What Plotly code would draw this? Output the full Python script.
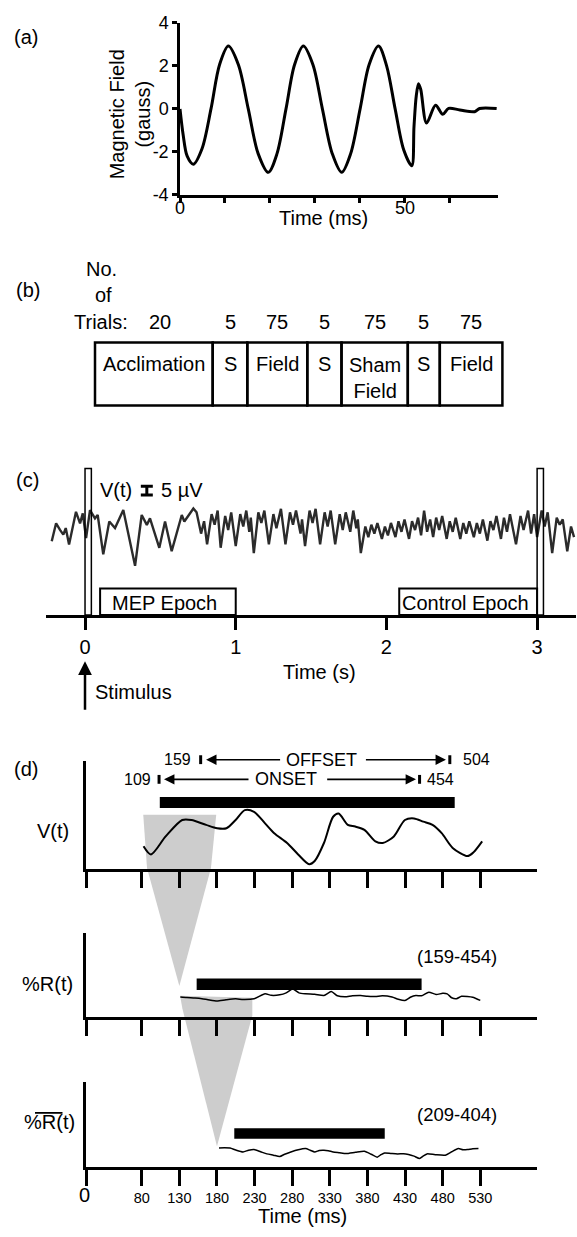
import plotly.graph_objects as go

W, H = 577, 1237
FONT = "Liberation Sans, Arial, sans-serif"


def px(x):
    return x / W


def py(y):
    return 1 - y / H


# ---------------- (a) magnetic field waveform ----------------
a_time = [0, 0.7, 1.6, 2.97, 4.9, 6.9, 8.8, 10.76, 13.0, 15.2, 17.4, 19.66, 21.6, 23.6,
          25.5, 27.46, 29.6, 31.7, 33.9, 36.0, 38.0, 40.1, 42.1, 44.2, 46.0, 47.9, 49.8,
          51.6, 52.1, 52.6, 53.1, 53.6, 54.9, 56.9, 58.5, 59.8, 62.3, 65.6, 66.7, 70.5]
a_field = [0, -1.2, -2.2, -2.57, -1.85, 0, 2.05, 2.92, 2.05, 0, -2.08, -2.95, -2.08, 0,
           2.05, 2.92, 2.05, 0, -2.08, -2.95, -2.08, 0, 2.05, 2.92, 2.0, 0, -1.9,
           -2.64, -0.81, 0.6, 1.17, 0.9, -0.66, 0.17, -0.25, 0.02, -0.05, -0.13, 0.02, 0.02]
a_yticks = [-4, -2, 0, 2, 4]
a_yticklabels = ["-4", "-2", "0", "2", "4"]
a_xticks = [0, 10, 20, 30, 40, 50, 60]
a_xlabelled = [0, 50]

# ---------------- (b) trial blocks ----------------
b_labels = ["Acclimation", "S", "Field", "S", "Sham<br>Field", "S", "Field"]
b_trials = ["20", "5", "75", "5", "75", "5", "75"]
b_edges_px = [95, 212.7, 247.3, 307.3, 341.5, 407.8, 439.8, 502.4]

# ---------------- (c) EEG trace ----------------
c_time = [-0.221, -0.192, -0.166, -0.144, -0.128, -0.106, -0.060, -0.033, -0.015, 0.007,
          0.033, 0.066, 0.084, 0.121, 0.161, 0.199, 0.254, 0.332, 0.376, 0.410, 0.431,
          0.493, 0.531, 0.575, 0.642, 0.659, 0.719,
          0.74, 0.77, 0.79, 0.81, 0.84, 0.86, 0.88, 0.90, 0.93, 0.95, 0.97, 1.00, 1.03,
          1.05, 1.07, 1.09, 1.10, 1.12, 1.15, 1.17, 1.19, 1.22, 1.25, 1.27, 1.30, 1.33,
          1.36, 1.38, 1.40, 1.43, 1.44, 1.46, 1.49, 1.51, 1.53, 1.56, 1.59, 1.61, 1.63,
          1.66, 1.69, 1.71, 1.73, 1.76, 1.78, 1.80, 1.81, 1.83,
          1.86, 1.88, 1.90, 1.92, 1.94, 1.97, 1.99, 2.01, 2.03, 2.06, 2.08, 2.10, 2.12,
          2.15, 2.17, 2.19, 2.21, 2.23, 2.25, 2.27, 2.29, 2.31, 2.33, 2.35, 2.37, 2.40,
          2.42, 2.44, 2.46, 2.49, 2.51, 2.53, 2.55, 2.58, 2.60, 2.62, 2.64, 2.67, 2.69,
          2.71, 2.73, 2.76, 2.78, 2.80, 2.82,
          2.86, 2.89, 2.91, 2.94, 2.96, 2.98, 3.00, 3.03, 3.05, 3.07, 3.10, 3.13, 3.15,
          3.17, 3.20, 3.225, 3.245]
c_volt = [-8.3, 1.8, -1.9, -4.6, -0.9, -10.2, 8.3, 1.8, 7.4, -6.5,
          9.3, 4.6, 6.5, -15.7, 2.8, -0.9, 9.3, -22.2, 6.5, 0.9, 4.6,
          -12.0, 2.8, -13.9, 6.5, 2.8, 10.2,
          8, -4, 3, -10, 7, 1, 9, -12, 6, -2, 8, -11, 7,
          0, 9, -3, 5, -15, 8, 2, 9, -10, 7, -1, 10, -10,
          8, 1, 9, -4, 4, -11, 9, 2, 10, -10, 8, 0, 9,
          -10, 7, -2, 8, -3, 9, -1, 4, -15,
          0, -6, 1, -4, 2, -7, 0, -5, 2, -6, 3, -3, 4,
          -7, 3, -2, 5, -5, 9, -3, 4, -6, 5, -2, 6, -7,
          3, -3, 5, -7, 2, -4, 3, -6, 2, -4, 4, -8, 3,
          -2, 6, -7, 5, -3, 7,
          -10, 6, -2, 9, -4, 7, -6, 9, 0, 8, -15, 5, 1,
          4, -14, 0, -6]
c_ticks = [0, 1, 2, 3]
c_stim_times = [0.0, 3.0]
c_stim_width = 0.042
c_epoch_names = ["MEP Epoch", "Control Epoch"]
c_epoch_start = [0.1, 2.085]
c_epoch_end = [1.0, 3.0]
c_scale_uv = 5

# ---------------- (d) MEP windows ----------------
d_ticks = [80, 130, 180, 230, 280, 330, 380, 430, 480, 530]
d1_time = [82.4, 92.2, 111.8, 133.8, 146.1, 165.6, 180.2, 192.6, 204.8, 217.0, 229.3,
           243.9, 256.1, 273.2, 287.9, 302.6, 309.9, 322.2, 334.4, 341.7, 353.9, 363.8,
           376.0, 390.6, 400.4, 415.1, 429.8, 441.9, 454.3, 466.5, 478.7, 493.3, 512.9,
           520.3, 532.5]
d1_volt = [23, 14.7, 33, 49.7, 49.7, 44.7, 41.3, 41.3, 49.7, 59.7, 58,
           46.3, 36.3, 26.3, 14.7, 4.7, 8, 26.3, 53, 56.3, 44.7, 43,
           39.7, 28, 26.3, 33, 49.7, 51.3, 48, 44.7, 36.3, 21.3, 13,
           16.3, 28]
d2_time = [131.3, 140, 150.8, 160, 168, 180.1, 192, 204.8, 215, 229.3, 243.9, 252, 263.4,
           272, 280.6, 289, 297.7, 310, 322.2, 331.9, 340, 350, 360, 371.1, 380, 390.6,
           400, 412.7, 421, 429.8, 437, 444.4, 452, 461.6, 471.3, 480, 486.0, 492, 498.3,
           505, 512.9, 520, 530.0]
d2_pct = [20.7, 20.2, 19.7, 19.0, 18.0, 16.7, 18.0, 19.0, 18.2, 19.0, 24.0, 22.5, 23.0,
          25.0, 29.0, 25.0, 24.0, 23.5, 22.3, 26.3, 22.0, 21.0, 22.0, 22.3, 21.5, 21.3,
          22.0, 20.7, 18.5, 17.3, 20.5, 22.3, 22.0, 25.7, 23.3, 24.5, 24.0, 20.0, 19.0,
          21.5, 21.3, 20.5, 17.3]
d3_time = [182.7, 190, 197.4, 205, 214.6, 222, 229.3, 238, 246.3, 255, 263.4, 270, 278.2,
           288, 297.7, 304, 309.9, 316, 322.2, 328, 334.4, 343, 351.6, 364, 376.0, 385,
           393.0, 398, 402.8, 411, 420.0, 428, 434.6, 442, 449.3, 454, 459.2, 470, 483.6,
           492, 500.8, 507, 512.9, 520, 527.6]
d3_pct = [19.3, 19.6, 19.3, 17.2, 15.3, 17.0, 17.7, 15.5, 13.3, 12.0, 10.7, 13.0, 15.3,
          17.5, 18.7, 17.0, 15.3, 16.8, 17.0, 16.5, 15.3, 14.5, 13.7, 15.0, 16.0, 13.0,
          10.0, 12.5, 14.3, 13.8, 13.3, 13.5, 12.7, 11.0, 8.7, 11.0, 13.3, 12.5, 12.0,
          15.5, 18.7, 17.5, 17.7, 18.5, 18.7]
d_bar_start = [104, 153, 203]
d_bar_end = [496, 452, 403]
d_bar_labels = ["", "(159-454)", "(209-404)"]
onset_labels = ["109", "454"]
offset_labels = ["159", "504"]
onset_marks = [103, 449.3]
offset_marks = [158.3, 489.5]
window1 = [82, 179]      # averaging window in V(t)
window2 = [131, 227]     # averaging window in %R(t)
window_pts = [130, 180]  # resulting points

fig = go.Figure()

# ---- traces ----
fig.add_trace(go.Scatter(x=a_time, y=a_field, mode="lines",
                         line=dict(color="black", width=3, shape="spline", smoothing=0.9),
                         xaxis="x", yaxis="y", hoverinfo="skip"))
fig.add_trace(go.Scatter(x=c_time, y=c_volt, mode="lines",
                         line=dict(color="#2b2b2b", width=2.4),
                         xaxis="x3", yaxis="y3", hoverinfo="skip"))
fig.add_trace(go.Scatter(x=[0.41], y=[20.3], mode="markers",
                         marker=dict(size=1, color="rgba(0,0,0,0)"),
                         error_y=dict(type="data", array=[c_scale_uv / 2], thickness=3,
                                      width=6, color="black"),
                         xaxis="x3", yaxis="y3", hoverinfo="skip"))
fig.add_trace(go.Scatter(x=d1_time, y=d1_volt, mode="lines",
                         line=dict(color="black", width=2, shape="spline", smoothing=0.8),
                         xaxis="x4", yaxis="y4", hoverinfo="skip"))
fig.add_trace(go.Scatter(x=d2_time, y=d2_pct, mode="lines",
                         line=dict(color="black", width=1.5, shape="spline", smoothing=0.6),
                         xaxis="x5", yaxis="y5", hoverinfo="skip"))
fig.add_trace(go.Scatter(x=d3_time, y=d3_pct, mode="lines",
                         line=dict(color="black", width=1.5, shape="spline", smoothing=0.6),
                         xaxis="x6", yaxis="y6", hoverinfo="skip"))

shapes = []
ann = []


def text(x, y, s, size=20, xanchor="center", **kw):
    d = dict(x=px(x), y=py(y), xref="paper", yref="paper", text=s, showarrow=False,
             xanchor=xanchor, yanchor="middle", font=dict(size=size, color="black", family=FONT))
    d.update(kw)
    ann.append(d)


# ---- (a) ----
text(26, 27, "(a)")
text(130, 106, "Magnetic Field<br>(gauss)", textangle=-90)
text(323, 211, "Time (ms)")
for v in a_xlabelled:
    ann.append(dict(x=v, y=py(201), xref="x", yref="paper", text=str(v), showarrow=False,
                    yanchor="middle", font=dict(size=18, color="black", family=FONT)))

# ---- (b) ----
text(28, 285, "(b)")
text(101, 263, "No.")
text(103, 290, "of")
text(101.5, 317, "Trials:")
for i, (lab, n) in enumerate(zip(b_labels, b_trials)):
    x0, x1 = b_edges_px[i], b_edges_px[i + 1]
    shapes.append(dict(type="rect", xref="paper", yref="paper", x0=px(x0), x1=px(x1),
                       y0=py(402), y1=py(338), line=dict(color="black", width=2.5)))
    cx = (x0 + x1) / 2
    if "<br>" in lab:
        text(cx, 374, lab)
    else:
        text(cx, 360, lab)
    text(cx if i else 160, 317, n)

# ---- (c) ----
text(27.5, 478, "(c)")
text(116, 488, "V(t)")
text(182, 488, "5 µV")
text(319, 673, "Time (s)")
text(93, 693, "Stimulus", xanchor="left")
ann.append(dict(x=px(85), y=py(662), xref="paper", yref="paper", text="", showarrow=True,
                ax=0, ay=50, arrowhead=2, arrowsize=1.1, arrowwidth=2.5, arrowcolor="black"))
for s in c_stim_times:
    shapes.append(dict(type="rect", xref="x3", yref="y3", x0=s, x1=s + c_stim_width,
                       y0=-50, y1=32.8, line=dict(color="black", width=1.5)))
for name, s0, s1 in zip(c_epoch_names, c_epoch_start, c_epoch_end):
    shapes.append(dict(type="rect", xref="x3", yref="y3", x0=s0, x1=s1, y0=-50, y1=-35,
                       line=dict(color="black", width=2)))
    ann.append(dict(x=(s0 + s1) / 2 - 0.02, y=-43.3, xref="x3", yref="y3", text=name,
                    showarrow=False, font=dict(size=20, color="black", family=FONT)))

# ---- (d) ----
text(26, 771, "(d)")
text(53, 835, "V(t)")
text(47, 990, "%R(t)")
text(49, 1130, "%R(t)")
shapes.append(dict(type="line", xref="paper", yref="paper", x0=px(35), x1=px(62.5),
                   y0=py(1121), y1=py(1121), line=dict(color="black", width=1.8)))
text(84.6, 1204, "0")
text(302, 1226, "Time (ms)")

# onset / offset rows
rows = [(782, onset_labels, onset_marks, "ONSET", [(109.6, 223.9), (444.6, 324.5)], 272.4, [75, 477.4]),
        (762, offset_labels, offset_marks, "OFFSET", [(165.5, 265.9), (484.4, 376.0)], 318.3, [127.7, 525.1])]
for yrow, labs, marks, word, arrows, wx, lx in rows:
    for m in marks:
        shapes.append(dict(type="line", xref="x4", yref="paper", x0=m, x1=m,
                           y0=py(yrow + 4.5), y1=py(yrow - 4.5), line=dict(color="black", width=3)))
    for tip, tail in arrows:
        ann.append(dict(x=tip, y=py(yrow), xref="x4", yref="paper", ax=tail, ay=0,
                        axref="x4", ayref="pixel", text="", showarrow=True, arrowhead=2,
                        arrowsize=1.3, arrowwidth=1.6, arrowcolor="black"))
    ann.append(dict(x=wx, y=py(yrow), xref="x4", yref="paper", text=word, showarrow=False,
                    yanchor="middle", font=dict(size=18, color="black", family=FONT)))
    for lab, xx in zip(labs, lx):
        ann.append(dict(x=xx, y=py(yrow), xref="x4", yref="paper", text=lab, showarrow=False,
                        yanchor="middle", font=dict(size=16, color="black", family=FONT)))

# bars
bar_y = [("x4", "y4", 62, 73), ("x5", "y5", 28, 39.7), ("x6", "y6", 28.7, 39.3)]
for (xr, yr, y0, y1), b0, b1, lab, ly in zip(bar_y, d_bar_start, d_bar_end, d_bar_labels,
                                              [0, 962, 1123]):
    shapes.append(dict(type="rect", xref=xr, yref=yr, x0=b0, x1=b1, y0=y0, y1=y1,
                       fillcolor="black", line=dict(width=0)))
    if lab:
        text(457, ly, lab, size=18.5)

# gray averaging funnels
g1 = (f"M {window1[0]},{py(818)} L {window1[1]},{py(818)} L 172,{py(872)} "
      f"L {window_pts[0]},{py(992)} L 87,{py(872)} Z")
g2 = (f"M {window2[0]},{py(1002)} L {window2[1]},{py(1004)} L {window2[1]},{py(1022)} "
      f"L {window_pts[1]},{py(1155)} L 134,{py(1015)} Z")
for g in (g1, g2):
    shapes.append(dict(type="path", xref="x4", yref="paper", path=g,
                       fillcolor="#cdcdcd", line=dict(width=0), layer="below"))

axline = dict(showline=True, linecolor="black", linewidth=2.5, showgrid=False,
              zeroline=False, ticks="outside", tickcolor="black", tickwidth=2.5)

d_xrange = [5.9, 605.4]
d_dom = [px(86), px(537)]

fig.update_layout(
    width=W, height=H, margin=dict(l=0, r=0, t=0, b=0), autosize=False,
    paper_bgcolor="white", plot_bgcolor="white", showlegend=False,
    font=dict(family=FONT, color="black"),
    xaxis=dict(domain=[px(180), px(498)], range=[0, 70.8], anchor="y", tickvals=a_xticks,
               ticklen=5, showticklabels=False, **axline),
    yaxis=dict(domain=[py(188), py(13)], range=[-4, 4], anchor="x", tickvals=a_yticks,
               ticktext=a_yticklabels, ticklen=5, tickfont=dict(size=18), **axline),
    xaxis3=dict(domain=[px(46), px(576)], range=[-0.259, 3.258], anchor="y3",
                tickvals=c_ticks, ticklen=12, tickfont=dict(size=20), **axline),
    yaxis3=dict(domain=[py(615), py(455)], range=[-50, 38.89], anchor="x3", visible=False),
    xaxis4=dict(domain=d_dom, range=d_xrange, anchor="y4", tickvals=[6] + d_ticks,
                ticklen=16, showticklabels=False, **axline),
    yaxis4=dict(domain=[py(873), py(763)], range=[0, 110], anchor="x4",
                showticklabels=False, **{**axline, "ticks": ""}),
    xaxis5=dict(domain=d_dom, range=d_xrange, anchor="y5", tickvals=[6] + d_ticks,
                ticklen=16, showticklabels=False, **axline),
    yaxis5=dict(domain=[py(1024), py(938)], range=[0, 86], anchor="x5",
                showticklabels=False, **{**axline, "ticks": ""}),
    xaxis6=dict(domain=d_dom, range=d_xrange, anchor="y6", tickvals=[6] + d_ticks,
                ticktext=[""] + [str(t) for t in d_ticks], ticklen=16,
                tickfont=dict(size=14.5), **axline),
    yaxis6=dict(domain=[py(1176), py(1090)], range=[0, 86], anchor="x6",
                showticklabels=False, **{**axline, "ticks": ""}),
    shapes=shapes, annotations=ann,
)

fig.write_html("out.html")
